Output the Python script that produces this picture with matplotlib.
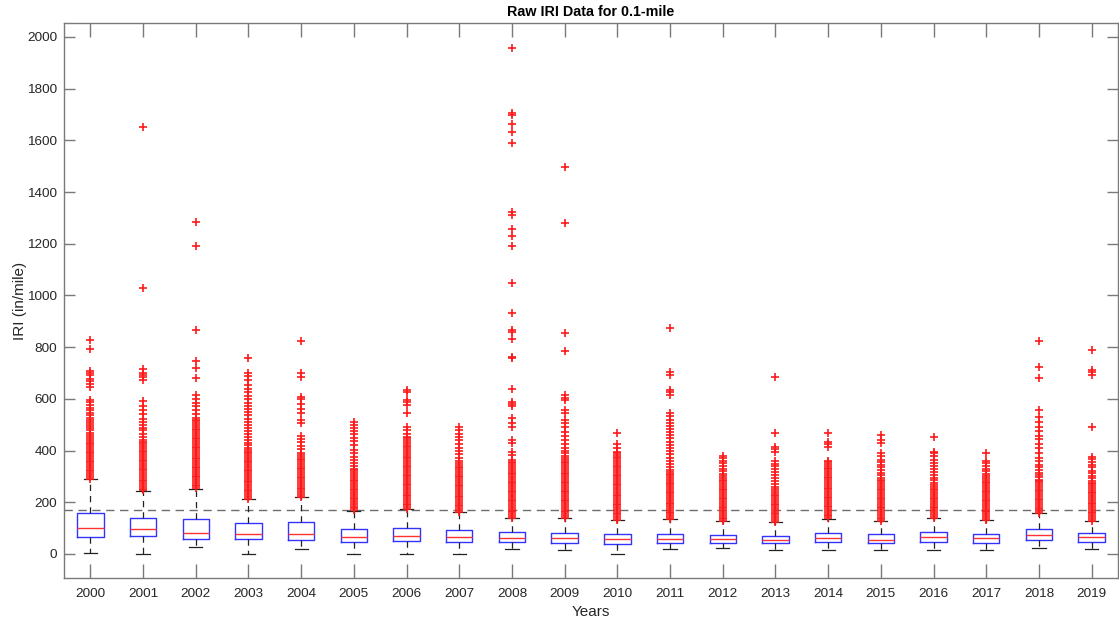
import matplotlib
matplotlib.use("Agg")
import matplotlib.pyplot as plt

plt.rcParams['font.family'] = ['Liberation Sans', 'DejaVu Sans']

years = [str(y) for y in range(2000, 2020)]

# Box statistics per year (IRI, in/mile)
q1 = [67, 70, 57, 57, 55, 48, 51, 46, 47, 43, 40, 43, 43, 42, 46, 43, 47, 44, 55, 47]
median = [99, 95, 82, 79, 77, 67, 70, 65, 61, 60, 57, 58, 58, 54, 61, 55, 64, 61, 72, 64]
q3 = [157, 139, 135, 120, 123, 97, 101, 94, 84, 81, 76, 78, 75, 71, 81, 76, 84, 78, 97, 80]
whisker_low = [5, 0, 26, 0, 18, 0, 0, 0, 21, 16, 0, 18, 23, 16, 16, 15, 15, 15, 23, 18]
whisker_high = [290, 244, 252, 213, 221, 168, 173, 162, 139, 139, 131, 135, 126, 124, 137, 126, 140, 132, 157, 128]

# Outlying sections per year
outliers_2000 = [291, 298, 305, 312, 319, 326, 333, 340, 347, 354, 361, 368, 375, 382, 389, 396,
                 403, 410, 417, 424, 431, 438, 445, 452, 461, 469, 478, 486, 494, 503, 511, 519,
                 527, 536, 545, 556, 566, 577, 588, 596, 647, 657, 668, 677, 692, 700, 709, 792, 828]
outliers_2001 = [246, 253, 260, 267, 274, 281, 288, 295, 302, 309, 316, 323, 330, 337, 344, 351,
                 358, 365, 372, 379, 386, 393, 400, 407, 414, 421, 428, 435, 441, 452, 463, 478,
                 489, 497, 512, 524, 541, 558, 571, 590, 673, 684, 692, 700, 715, 1030, 1652]
outliers_2002 = [254, 261, 268, 275, 282, 289, 296, 303, 310, 317, 324, 331, 338, 345, 352, 359,
                 366, 373, 380, 387, 394, 401, 408, 415, 422, 429, 436, 443, 450, 457, 464, 471,
                 478, 485, 492, 499, 506, 513, 520, 527, 541, 556, 571, 583, 600, 615, 680, 719,
                 745, 866, 1193, 1283]
outliers_2003 = [214, 221, 228, 235, 242, 249, 256, 263, 270, 277, 284, 291, 298, 305, 312, 319,
                 326, 333, 340, 347, 354, 361, 368, 375, 382, 389, 396, 403, 410, 420, 431, 442,
                 453, 464, 476, 488, 500, 512, 524, 536, 548, 560, 572, 585, 598, 611, 625, 640,
                 655, 672, 688, 700, 757]
outliers_2004 = [222, 229, 236, 243, 250, 257, 264, 271, 278, 285, 292, 299, 306, 313, 320, 327,
                 334, 341, 348, 355, 362, 369, 376, 383, 390, 405, 418, 432, 445, 457, 505, 518,
                 544, 562, 580, 598, 608, 686, 699, 825]
outliers_2005 = [169, 176, 183, 190, 197, 204, 211, 218, 225, 232, 239, 246, 253, 260, 267, 274,
                 281, 288, 295, 302, 309, 316, 323, 330, 340, 352, 365, 376, 390, 403, 420, 437,
                 450, 463, 476, 486, 498, 512]
outliers_2006 = [174, 181, 188, 195, 202, 209, 216, 223, 230, 237, 244, 251, 258, 265, 272, 279,
                 286, 293, 300, 307, 314, 321, 328, 335, 342, 349, 356, 363, 370, 377, 384, 391,
                 398, 405, 412, 419, 426, 433, 440, 447, 454, 465, 480, 493, 547, 577, 587, 596,
                 625, 634]
outliers_2007 = [163, 170, 177, 184, 191, 198, 205, 212, 219, 226, 233, 240, 247, 254, 261, 268,
                 275, 282, 289, 296, 303, 310, 317, 324, 331, 338, 345, 350, 360, 372, 385, 398,
                 410, 425, 440, 452, 465, 478, 490]
outliers_2008 = [140, 147, 154, 161, 168, 175, 182, 189, 196, 203, 210, 217, 224, 231, 238, 245,
                 252, 259, 266, 273, 280, 287, 294, 301, 308, 315, 322, 329, 336, 343, 350, 357,
                 363, 383, 396, 428, 441, 493, 505, 525, 573, 580, 589, 637, 757, 762, 830, 860,
                 866, 934, 1050, 1191, 1230, 1256, 1311, 1324, 1591, 1632, 1663, 1700, 1705, 1958]
outliers_2009 = [140, 147, 154, 161, 168, 175, 182, 189, 196, 203, 210, 217, 224, 231, 238, 245,
                 252, 259, 266, 273, 280, 287, 294, 301, 308, 315, 322, 329, 336, 343, 350, 357,
                 364, 370, 380, 389, 398, 410, 425, 440, 455, 473, 493, 505, 518, 544, 557, 596,
                 605, 615, 787, 854, 1282, 1496]
outliers_2010 = [132, 139, 146, 153, 160, 167, 174, 181, 188, 195, 202, 209, 216, 223, 230, 237,
                 244, 251, 258, 265, 272, 279, 286, 293, 300, 307, 314, 321, 328, 335, 342, 349,
                 356, 363, 370, 377, 384, 391, 395, 410, 425, 469]
outliers_2011 = [136, 143, 150, 157, 164, 171, 178, 185, 192, 199, 206, 213, 220, 227, 234, 241,
                 248, 255, 262, 269, 276, 283, 290, 297, 304, 311, 318, 325, 335, 348, 360, 372,
                 385, 398, 410, 420, 435, 448, 460, 470, 485, 495, 505, 520, 532, 544, 615, 625,
                 634, 692, 705, 875]
outliers_2012 = [127, 134, 141, 148, 155, 162, 169, 176, 183, 190, 197, 204, 211, 218, 225, 232,
                 239, 246, 253, 260, 267, 274, 281, 288, 295, 300, 310, 320, 330, 340, 350, 360,
                 370, 379]
outliers_2013 = [125, 132, 139, 146, 153, 160, 167, 174, 181, 188, 195, 202, 209, 216, 223, 230,
                 237, 242, 250, 260, 272, 282, 295, 305, 318, 330, 340, 348, 358, 395, 405, 415,
                 467, 686]
outliers_2014 = [138, 145, 152, 159, 166, 173, 180, 187, 194, 201, 208, 215, 222, 229, 236, 243,
                 250, 257, 264, 271, 278, 285, 292, 299, 306, 313, 320, 327, 334, 341, 348, 355,
                 358, 415, 425, 435, 467]
outliers_2015 = [127, 134, 141, 148, 155, 162, 169, 176, 183, 190, 197, 204, 211, 218, 225, 232,
                 239, 246, 253, 260, 267, 274, 281, 286, 295, 305, 315, 325, 335, 345, 355, 365,
                 378, 389, 428, 440, 460]
outliers_2016 = [141, 148, 155, 162, 169, 176, 183, 190, 197, 204, 211, 218, 225, 232, 239, 246,
                 253, 260, 267, 275, 285, 295, 305, 318, 330, 340, 352, 365, 378, 389, 395, 454]
outliers_2017 = [133, 140, 147, 154, 161, 168, 175, 182, 189, 196, 203, 210, 217, 224, 231, 238,
                 245, 252, 259, 266, 273, 280, 287, 294, 300, 310, 320, 330, 340, 350, 358, 392]
outliers_2018 = [158, 165, 172, 179, 186, 193, 200, 207, 214, 221, 228, 235, 242, 249, 256, 263,
                 270, 277, 284, 286, 296, 305, 315, 325, 335, 345, 358, 370, 389, 408, 425, 445,
                 455, 475, 490, 510, 530, 557, 680, 725, 822]
outliers_2019 = [129, 136, 143, 150, 157, 164, 171, 178, 185, 192, 199, 206, 213, 220, 227, 234,
                 241, 248, 255, 262, 269, 273, 282, 292, 302, 312, 322, 335, 345, 355, 366, 376,
                 493, 692, 705, 712, 789]

outliers = [outliers_2000, outliers_2001, outliers_2002, outliers_2003, outliers_2004,
            outliers_2005, outliers_2006, outliers_2007, outliers_2008, outliers_2009,
            outliers_2010, outliers_2011, outliers_2012, outliers_2013, outliers_2014,
            outliers_2015, outliers_2016, outliers_2017, outliers_2018, outliers_2019]

threshold = 170

stats = []
for i, yr in enumerate(years):
    stats.append(dict(label=yr, med=median[i], q1=q1[i], q3=q3[i],
                      whislo=whisker_low[i], whishi=whisker_high[i],
                      fliers=outliers[i]))

fig = plt.figure(figsize=(11.19, 6.23), dpi=100)
ax = fig.add_axes([64 / 1119, 45 / 623, 1054 / 1119, 555 / 623])

positions = list(range(1, len(years) + 1))
ax.bxp(stats, positions=positions, widths=0.5, showfliers=True,
       boxprops=dict(color='#3333ff', linewidth=1.0),
       medianprops=dict(color='#ff3333', linewidth=1.0),
       whiskerprops=dict(color='#222222', linestyle=(0, (5, 4)), linewidth=0.9),
       capprops=dict(color='#222222', linewidth=0.9),
       flierprops=dict(marker='+', markeredgecolor='#ff1a1a', markersize=6,
                       markeredgewidth=1.2, linestyle='none'))

ax.axhline(threshold, color='#6e6e6e', linestyle=(0, (6, 4)), linewidth=1.0, zorder=0.5)

ax.set_xlim(0.5, len(years) + 0.5)
ax.set_ylim(-93, 2054)
ax.set_yticks(range(0, 2001, 200))
ax.set_xticks(positions)
ax.set_xticklabels(years)

spine_color = '#7a7a7a'
for s in ax.spines.values():
    s.set_color(spine_color)
    s.set_linewidth(1.0)
ax.tick_params(axis='both', direction='in', colors=spine_color, labelcolor='#262626',
               labelsize=9.7, top=True, right=True, width=1.0)
ax.tick_params(axis='x', length=10, pad=7)
ax.tick_params(axis='y', length=8, pad=5)

ax.set_title('Raw IRI Data for 0.1-mile', fontsize=10.3, fontweight='bold', color='black', pad=5)
ax.set_xlabel('Years', fontsize=11, color='#262626', labelpad=4)
ax.set_ylabel('IRI (in/mile)', fontsize=11, color='#262626', labelpad=0)

fig.savefig('out.png', dpi=100)
